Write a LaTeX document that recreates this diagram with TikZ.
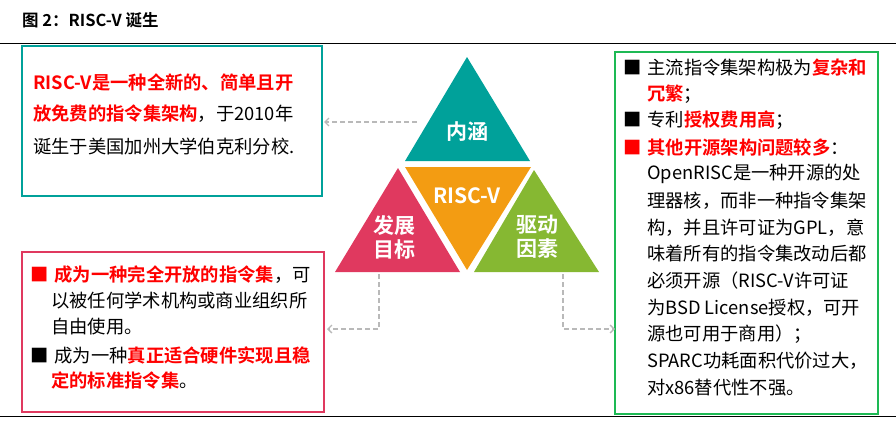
\documentclass[tikz,border=0pt]{standalone}
\usepackage{fontspec}
\setmainfont{Noto Sans CJK SC}
\newfontfamily\cjkb{Noto Sans CJK SC Bold}
\usetikzlibrary{arrows.meta}
\definecolor{teal1}{HTML}{00A19A}
\definecolor{org}{HTML}{F39C12}
\definecolor{pnk}{HTML}{E0395F}
\definecolor{grn}{HTML}{86B832}
\definecolor{boxg}{HTML}{1DB954}
\definecolor{rd}{HTML}{FF0000}
\newcommand{\R}[1]{{\cjkb\color{rd}#1}}
\begin{document}
\begin{tikzpicture}[x=1pt,y=-1pt,
 tx/.style={anchor=west,inner sep=0,font=\fontsize{18.3}{18}\selectfont},
 tri/.style={font=\cjkb\fontsize{21}{24}\selectfont,text=white,align=center,inner sep=0},
 dsh/.style={draw=gray!55,dash pattern=on 5pt off 3pt,line width=1.3pt,-{Straight Barb[length=4pt,width=8pt]}}]
\useasboundingbox (0,0) rectangle (896,429);
\node[anchor=west,inner sep=0,font=\cjkb\fontsize{16.5}{16}\selectfont] (title) at (22,20) {图 2：RISC-V 诞生};
\draw[line width=0.8pt] (0,43) -- (896,43);
\draw[line width=0.8pt] (0,416) -- (896,416);
% boxes
\draw[teal1,line width=1.3pt] (22,46) rectangle (322,196);
\draw[pnk,line width=1.3pt] (22,252) rectangle (324,412);
\draw[boxg,line width=1.3pt] (615,52) rectangle (878,414);
% triangles
\fill[teal1] (467,57) -- (405,161) -- (530,161) -- cycle;
\fill[org] (405,167) -- (531,167) -- (467,270) -- cycle;
\fill[pnk] (398,168) -- (335,272) -- (460,272) -- cycle;
\fill[grn] (534,170) -- (474,272) -- (599,272) -- cycle;
\node[tri] (nh) at (467,132) {内涵};
\node[tri] (rv) at (467,196) {RISC-V};
\node[tri] (fz) at (394,237) {发展\\目标};
\node[tri] (qd) at (537,237) {驱动\\因素};
\coordinate (a1) at (417,122); \coordinate (a2) at (324,122);
\draw[dsh] (a1) -- (a2);
\coordinate (b1) at (379,274); \coordinate (b2) at (327,329);
\draw[dsh] (b1) |- (b2);
\coordinate (c1) at (563,274); \coordinate (c2) at (615,329);
\draw[dsh] (c1) |- (c2);
% left top
\node[tx] (l1) at (33,82) {\R{RISC-V是一种全新的、简单且开}};
\node[tx] (l2) at (33,114) {\R{放免费的指令集架构}，于2010年};
\node[tx] (l3) at (33,146) {诞生于美国加州大学伯克利分校.};
% left bottom
\node[tx] (m1) at (30,275) {{\color{rd}■}\hspace{6pt}\R{成为一种完全开放的指令集}，可};
\node[tx] (m2) at (51,301) {以被任何学术机构或商业组织所};
\node[tx] (m3) at (51,327) {自由使用。};
\node[tx] (m4) at (30,355) {■\hspace{6pt}成为一种\R{真正适合硬件实现且稳}};
\node[tx] (m5) at (51,381) {\R{定的标准指令集}。};
% right
\node[tx] (r1) at (623,68) {■\hspace{6pt}主流指令集架构极为\R{复杂和}};
\node[tx] (r2) at (647,94) {\R{冗繁}；};
\node[tx] (r3) at (623,120) {■\hspace{6pt}专利\R{授权费用高}；};
\node[tx] (r4) at (623,147) {{\color{rd}■}\hspace{6pt}\R{其他开源架构问题较多}：};
\node[tx] (r5) at (647,174) {OpenRISC是一种开源的处};
\node[tx] (r6) at (647,201) {理器核，而非一种指令集架};
\node[tx] (r7) at (647,228) {构，并且许可证为GPL，意};
\node[tx] (r8) at (647,254) {味着所有的指令集改动后都};
\node[tx] (r9) at (647,281) {必须开源（RISC-V许可证};
\node[tx] (r10) at (647,308) {为BSD License授权，可开};
\node[tx] (r11) at (647,334) {源也可用于商用）；};
\node[tx] (r12) at (647,361) {SPARC功耗面积代价过大，};
\node[tx] (r13) at (647,388) {对x86替代性不强。};
\end{tikzpicture}
\end{document}
